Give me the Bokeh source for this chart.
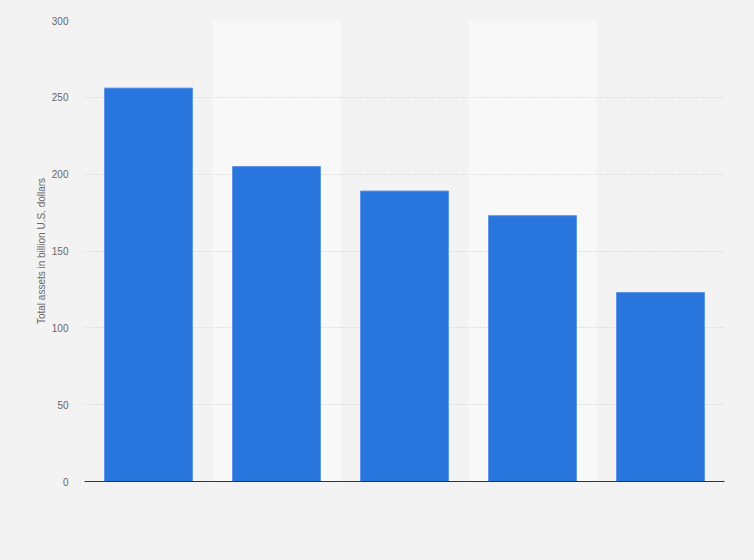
from bokeh.plotting import figure
from bokeh.models import ColumnDataSource, FactorRange, Range1d
from bokeh.embed import file_html
from bokeh.resources import INLINE

categories = ["1", "2", "3", "4", "5"]
values = [256, 205, 189, 173, 123]
band_categories = ["2", "4"]
y_ticks = [0, 50, 100, 150, 200, 250, 300]
y_label = "Total assets in billion U.S. dollars"

BG = "#f3f3f3"
p = figure(width=746, height=552, x_range=FactorRange(*categories), y_range=Range1d(0, 300),
           output_backend="svg", toolbar_location=None,
           min_border_left=84, min_border_right=22, min_border_top=20, min_border_bottom=71)
p.background_fill_color = BG
p.border_fill_color = BG
p.outline_line_color = None

band_src = ColumnDataSource(dict(x=band_categories, top=[300] * len(band_categories)))
p.vbar(x="x", top="top", width=1.0, source=band_src, fill_color="#f8f8f8",
       line_color=None, level="image")

src = ColumnDataSource(dict(x=categories, top=values))
p.vbar(x="x", top="top", width=0.6875, source=src, fill_color="#2876dd",
       line_color="#5d97e6", line_width=1)

p.xgrid.grid_line_color = None
p.ygrid.grid_line_color = "#cdcdcd"
p.ygrid.grid_line_dash = "1 2"
p.ygrid.ticker = y_ticks

p.yaxis.ticker = y_ticks
p.yaxis.axis_line_color = None
p.yaxis.major_tick_line_color = None
p.yaxis.minor_tick_line_color = None
p.yaxis.major_label_text_font = "Liberation Sans"
p.yaxis.major_label_text_font_size = "10px"
p.yaxis.major_label_text_color = "#666666"
p.yaxis.major_label_standoff = 10
p.yaxis.axis_label = y_label
p.yaxis.axis_label_text_font = "Liberation Sans"
p.yaxis.axis_label_text_font_size = "10px"
p.yaxis.axis_label_text_font_style = "normal"
p.yaxis.axis_label_text_color = "#666666"
p.yaxis.axis_label_standoff = 2

p.xaxis.axis_line_color = "#333333"
p.xaxis.axis_line_width = 1
p.xaxis.major_tick_line_color = None
p.xaxis.minor_tick_line_color = None
p.xaxis.major_label_text_alpha = 0
p.xaxis.major_label_text_font_size = "1px"

html = file_html(p, INLINE)
html = html.replace("<body>", '<body style="background:%s;">' % BG)
open("out.html", "w").write(html)
